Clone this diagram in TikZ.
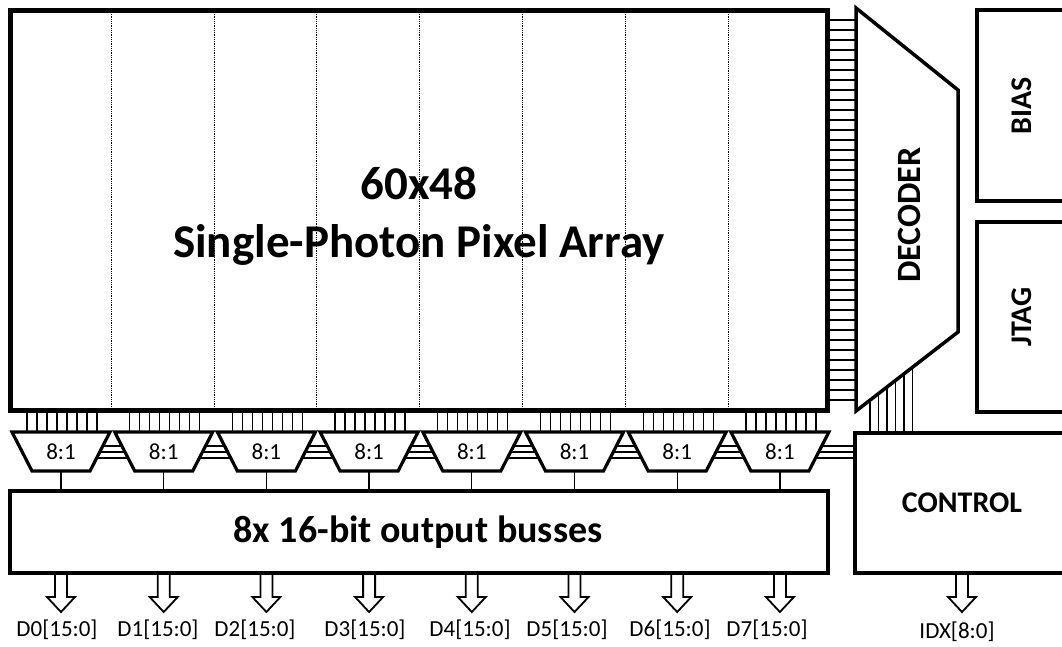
\documentclass[tikz,border=0pt]{standalone}
\usepackage{fontspec}
\setmainfont{Carlito}
\tikzset{
  blockline/.style={draw=black, line width=4pt, fill=white},
  muxline/.style={draw=black, line width=3.2pt, fill=white, line join=miter},
  wire/.style={draw=black, line width=1.3pt},
  dotline/.style={draw=black, line width=1pt, dash pattern=on 1pt off 0.8pt},
  hollowarrow/.style={draw=black, line width=1.8pt, fill=white, line join=miter},
  busfont/.style={font=\fontsize{23}{25}\selectfont},
  muxfont/.style={font=\fontsize{23}{25}\selectfont},
  blockfont/.style={font=\fontsize{30}{32}\selectfont\bfseries},
}
\begin{document}
\begin{tikzpicture}[x=1pt,y=-1pt]
\useasboundingbox (0,0) rectangle (1062,646);
\clip (0,0) rectangle (1062,646);
\fill[white] (0,0) rectangle (1062,646);

% ---- pixel array ----
\foreach \k in {1,...,7} {
  \draw[dotline] ({8.5+102.8*\k},12) -- ({8.5+102.8*\k},408);
}
\node[draw=black, line width=5pt, minimum width=817pt, minimum height=400pt,
      inner sep=0pt, outer sep=0pt] (array) at (418.5,210) {};
\node[align=center, font=\fontsize{47}{58}\selectfont\bfseries] (title) at (419,216)
  {60x48\\Single-Photon Pixel Array};

% ---- row wires array -> decoder ----
\foreach \y in {20,30,...,400} {
  \draw[wire] (829,\y) -- (856,\y);
}

% ---- decoder ----
\draw[blockline, line width=3.5pt, line join=miter] (856,8) coordinate (dtl) -- (958,90) coordinate (dtr)
  -- (958,332) coordinate (dbr) -- (856,411) coordinate (dbl) -- cycle;
\node[font=\fontsize{34}{36}\selectfont\bfseries, rotate=90] (decoder) at (909,215) {DECODER};

% ---- BIAS, JTAG ----
\draw[blockline, line width=3.5pt] (977,10) rectangle (1080,201);
\node[blockfont, rotate=90] (bias) at (1022,106) {BIAS};
\draw[blockline, line width=3.5pt] (977,222) rectangle (1080,412);
\node[blockfont, rotate=90] (jtag) at (1022,317) {JTAG};

% ---- decoder -> control wires ----
\foreach \x in {870,878.5,887,895.5,904,912.5} {
  \draw[wire] (\x,{411-(\x-856)*79/102}) -- (\x,433);
}

% ---- control ----
\draw[blockline, line width=3.5pt] (855,433) rectangle (1080,573);
\node[blockfont] (control) at (962,503) {CONTROL};

% ---- horizontal select lines between muxes ----
\foreach \y in {446,452,458} {
  \draw[wire] (61,\y) -- (855,\y);
}

% ---- muxes ----
\foreach \i in {0,...,7} {
  \pgfmathsetmacro\c{61+102.7*\i}
  \foreach \k in {0,...,7} {
    \draw[wire] ({\c-34+10*\k},412) -- ({\c-34+10*\k},432);
  }
  \draw[muxline] ({\c-49},432) -- ({\c+49},432) -- ({\c+29},471) -- ({\c-29},471) -- cycle;
  \node[muxfont] (m\i) at (\c,452) {8:1};
  \draw[wire] (\c,471) -- (\c,491);
}

% ---- output bus box ----
\draw[blockline, line width=3.5pt] (10,491) rectangle (828,573);
\node[font=\fontsize{38}{40}\selectfont\bfseries] (bus) at (418,532) {8x 16-bit output busses};

% ---- output arrows ----
\foreach \i/\lx/\txt in {0/57/D0[15:0],1/158/D1[15:0],2/255/D2[15:0],3/365/D3[15:0],
                         4/470/D4[15:0],5/567/D5[15:0],6/670/D6[15:0],7/767/D7[15:0]} {
  \pgfmathsetmacro\c{61+102.7*\i}
  \draw[hollowarrow] ({\c-6},575) -- ({\c-6},597) -- ({\c-14},597) -- (\c,612)
     -- ({\c+14},597) -- ({\c+6},597) -- ({\c+6},575);
  \node[busfont] (d\i) at (\lx,630) {\txt};
}
\draw[hollowarrow] (956,575) -- (956,597) -- (948,597) -- (962,612)
   -- (976,597) -- (968,597) -- (968,575);
\node[busfont] (idx) at (957,632) {IDX[8:0]};
\end{tikzpicture}
\end{document}
